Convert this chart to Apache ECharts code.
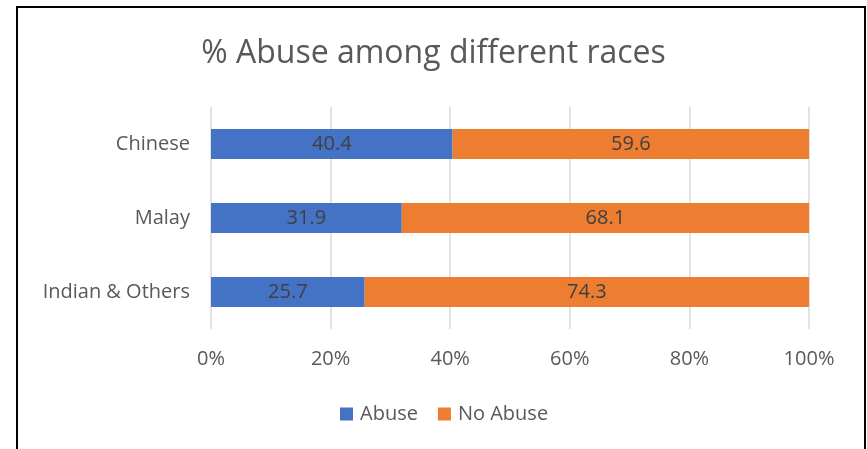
<!DOCTYPE html>
<html>
<head>
<meta charset="utf-8">
<script src="https://cdn.jsdelivr.net/npm/echarts@6/dist/echarts.min.js"></script>
<style>
html,body{margin:0;padding:0;background:#fff;}
#frame{position:absolute;left:16px;top:6px;width:846px;height:460px;border:2px solid #000;border-bottom:none;}
#chart{position:absolute;left:0;top:0;width:867px;height:449px;}
</style>
</head>
<body>
<div id="frame"></div>
<div id="chart"></div>
<script>
const categories = ["Chinese", "Malay", "Indian & Others"];
const abuse = [40.4, 31.9, 25.7];
const noAbuse = [59.6, 68.1, 74.3];
const seriesNames = ["Abuse", "No Abuse"];
const titleText = "% Abuse among different races";

const chart = echarts.init(document.getElementById('chart'));
const labelStyle = {show: true, position: 'inside', color: '#404040', fontSize: 20, fontFamily: 'Open Sans'};
chart.setOption({
  animation: false,
  backgroundColor: 'transparent',
  title: {
    text: titleText, left: 'center', top: 33,
    textStyle: {fontFamily: 'Open Sans', fontSize: 32, fontWeight: 'normal', color: '#595959'}
  },
  legend: {
    data: seriesNames, top: 399, left: 335,
    itemWidth: 13, itemHeight: 13, itemGap: 20, icon: 'rect',
    textStyle: {fontFamily: 'Open Sans', fontSize: 20, color: '#595959', padding: [0, 0, 0, 2]}
  },
  grid: {left: 211, right: 58, top: 107, bottom: 120, containLabel: false},
  xAxis: {
    type: 'value', min: 0, max: 100, interval: 20,
    axisLine: {show: false}, axisTick: {show: false},
    splitLine: {show: true, lineStyle: {color: '#d9d9d9', width: 1.5}},
    axisLabel: {formatter: '{value}%', margin: 20, fontFamily: 'Open Sans', fontSize: 20, color: '#595959'}
  },
  yAxis: {
    type: 'category', data: categories, inverse: true,
    axisLine: {show: false}, axisTick: {show: false},
    axisLabel: {margin: 21, fontFamily: 'Open Sans', fontSize: 20, color: '#595959'}
  },
  series: [
    {name: seriesNames[0], type: 'bar', stack: 'total', data: abuse, barWidth: 30,
     itemStyle: {color: '#4472c4'}, label: labelStyle},
    {name: seriesNames[1], type: 'bar', stack: 'total', data: noAbuse, barWidth: 30,
     itemStyle: {color: '#ed7d31'}, label: labelStyle}
  ]
});
</script>
</body>
</html>
